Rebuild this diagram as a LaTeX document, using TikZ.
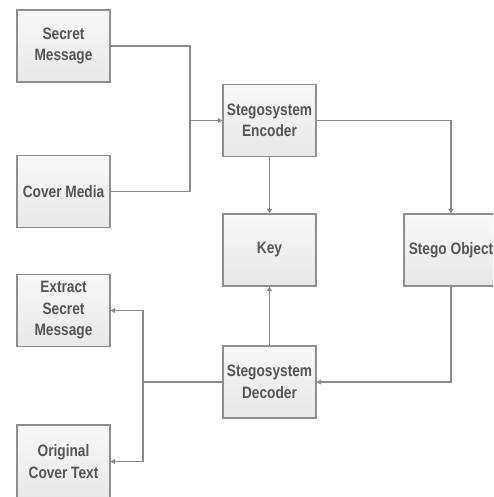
\documentclass[tikz,border=0pt]{standalone}
\usepackage{fontspec}
\setmainfont[FakeStretch=0.83]{Liberation Sans}
\usetikzlibrary{arrows.meta}
\definecolor{boxline}{HTML}{8E8E8E}
\definecolor{wire}{HTML}{8A8A8A}
\definecolor{ink}{HTML}{555555}
\begin{document}
\begin{tikzpicture}[x=1pt, y=1pt,
      box/.style={rectangle, draw=boxline, line width=1.2pt, top color=white!97!black,
        bottom color=white!91!black, minimum width=93pt, minimum height=72pt,
        align=center, text=ink, font=\fontsize{16.5}{21.5}\selectfont\bfseries, inner sep=1pt},
      wire/.style={draw=wire, line width=1.2pt},
      tip/.style={-{Triangle[width=5pt,length=4.5pt]}}]

    \useasboundingbox (0,0) rectangle (493,-497);
    \clip (0,0) rectangle (493,-497);

    % blocos do diagrama
    \node[box] (secret)   at (63.5,-46)    {Secret\\Message};
    \node[box] (cover)    at (63.5,-191.5) {Cover Media};
    \node[box] (encoder)  at (269.5,-120.5) {Stegosystem\\Encoder};
    \node[box] (key)      at (269.5,-250)  {Key};
    \node[box, minimum width=94pt] (stego) at (451,-250) {Stego Object};
    \node[box] (decoder)  at (269.5,-382)  {Stegosystem\\Decoder};
    \node[box] (extract)  at (63.5,-310.5) {Extract\\Secret\\Message};
    \node[box, minimum height=73pt] (original) at (63.5,-461.5) {Original\\Cover Text};

    % pontos de junção
    \coordinate (jin)  at (190,-120.5);
    \coordinate (jout) at (143,-382);

    \draw [wire] (secret.east) -| (jin);
    \draw [wire] (cover.east) -| (jin);
    \draw [wire, tip] (jin) -- (encoder.west);

    \draw [wire, tip] (encoder) -- (key);
    \draw [wire, tip] (encoder.east) -| (stego.north);
    \draw [wire, tip] (stego.south) |- (decoder.east);
    \draw [wire, tip] (decoder) -- (key);

    \draw [wire] (decoder.west) -- (jout);
    \draw [wire, tip] (jout) |- (extract.east);
    \draw [wire, tip] (jout) |- (original.east);

\end{tikzpicture}
\end{document}
